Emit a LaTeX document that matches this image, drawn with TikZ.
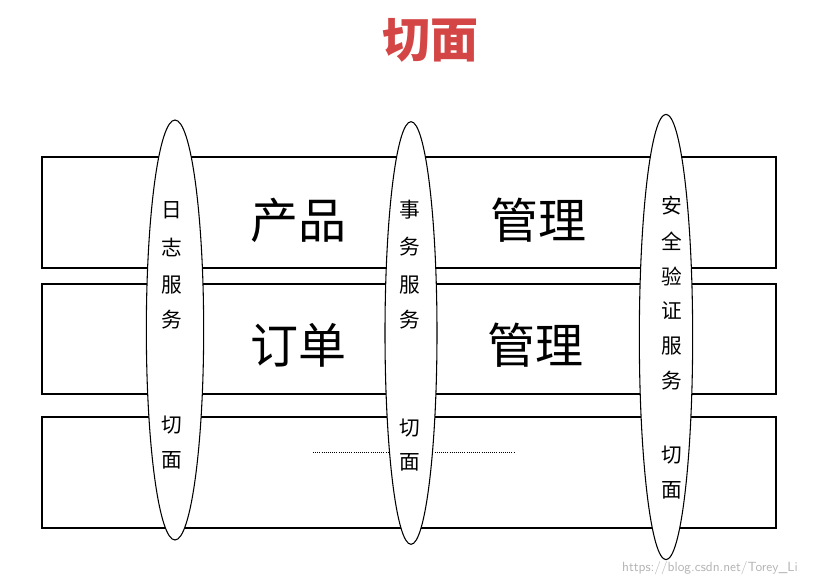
\documentclass[tikz,border=0pt]{standalone}
\usepackage{fontspec}
\newfontfamily\cjk{Noto Sans CJK SC}
\usetikzlibrary{shapes.geometric}
\begin{document}
\begin{tikzpicture}[x=0.75pt,y=-0.75pt,
  rowbox/.style={draw,line width=0.8pt,fill=white},
  oval/.style={draw,line width=0.8pt,fill=white,ellipse,inner sep=0pt},
  big/.style={font=\cjk\fontsize{36}{40}\selectfont},
  small/.style={font=\cjk\fontsize{15.5}{18}\selectfont,align=center}]
\useasboundingbox (0,0) rectangle (826,585);
\node[font=\cjk\bfseries\fontsize{36}{40}\selectfont,text={rgb,255:red,212;green,70;blue,70}] (title) at (430,40) {切面};
\path[rowbox] (42,157) rectangle (776,268);
\path[rowbox] (42,284) rectangle (776,394);
\path[rowbox] (42,417) rectangle (776,528);
\draw[densely dotted,line width=0.6pt] (313,452) -- (515,452);
\node[big] (t1) at (298,220) {产品};
\node[big] (t2) at (538,220) {管理};
\node[big] (t3) at (298,345) {订单};
\node[big] (t4) at (535,345) {管理};
\node[oval,minimum width=43pt,minimum height=315pt] (e1) at (175,330) {};
\node[oval,minimum width=39pt,minimum height=317pt] (e2) at (411,333) {};
\node[oval,minimum width=40pt,minimum height=334pt] (e3) at (666,337) {};
\foreach \c/\y in {日/210,志/248,服/285,务/320,切/425,面/460} \node[small] at (172,\y) {\c};
\foreach \c/\y in {事/210,务/247,服/285,务/320,切/428,面/462} \node[small] at (410,\y) {\c};
\foreach \c/\y in {安/206,全/241,验/276,证/311,服/346,务/381,切/455,面/490} \node[small] at (672,\y) {\c};
\node[font=\sffamily\fontsize{10}{12}\selectfont,text=gray!60] (wm) at (710,568) {https://blog.csdn.net/Torey\_Li};
\end{tikzpicture}
\end{document}
